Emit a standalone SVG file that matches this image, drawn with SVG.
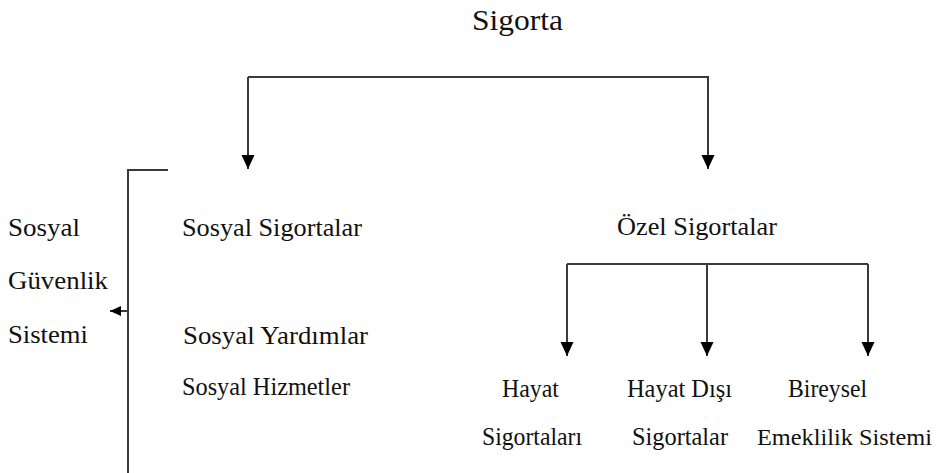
<svg xmlns="http://www.w3.org/2000/svg" width="942" height="473" viewBox="0 0 942 473">
<style>
text{font-family:"Times New Roman","Liberation Serif","DejaVu Serif",serif;font-size:26px;fill:#111}
.title{font-size:30px}
.sm{font-size:24px}
.ln{fill:none;stroke:#3a3a3a;stroke-width:2}
.a{marker-end:url(#ah)}
.s{marker-end:url(#sh)}
</style>
<defs>
<marker id="ah" markerUnits="userSpaceOnUse" markerWidth="14" markerHeight="14" refX="14" refY="6.5" orient="auto" viewBox="0 0 14 13"><path d="M0,0 L14,6.5 L0,13 z" fill="#000"/></marker>
<marker id="sh" markerUnits="userSpaceOnUse" markerWidth="11" markerHeight="11" refX="11" refY="5" orient="auto" viewBox="0 0 11 10"><path d="M0,0 L11,5 L0,10 z" fill="#000"/></marker>
</defs>
<rect width="942" height="473" fill="#fff"/>
<g id="connectors">
<path class="ln a" d="M248,77 V169"/>
<path class="ln a" d="M248,77 H708 V169"/>
<path class="ln" d="M168,170 H128 V473"/>
<path class="ln s" d="M128,311 H110"/>
<path class="ln" d="M567,264 H868"/>
<path class="ln a" d="M567,264 V356"/>
<path class="ln a" d="M707,264 V356"/>
<path class="ln a" d="M868,264 V356"/>
</g>
<g id="sigorta"><text class="title" x="472" y="30" textLength="91" lengthAdjust="spacingAndGlyphs">Sigorta</text></g>
<g id="sosyal-guvenlik"><text x="8" y="236" textLength="72" lengthAdjust="spacingAndGlyphs">Sosyal</text><text x="8" y="289" textLength="100" lengthAdjust="spacingAndGlyphs">Güvenlik</text><text x="8" y="343" textLength="80" lengthAdjust="spacingAndGlyphs">Sistemi</text></g>
<g id="sosyal-sigortalar"><text x="182" y="236" textLength="180" lengthAdjust="spacingAndGlyphs">Sosyal Sigortalar</text></g>
<g id="sosyal-yardimlar"><text x="183" y="344" textLength="185" lengthAdjust="spacingAndGlyphs">Sosyal Yardımlar</text></g>
<g id="sosyal-hizmetler"><text x="182" y="395" textLength="168" lengthAdjust="spacingAndGlyphs">Sosyal Hizmetler</text></g>
<g id="ozel-sigortalar"><text x="617" y="235" textLength="160" lengthAdjust="spacingAndGlyphs">Özel Sigortalar</text></g>
<g id="hayat"><text x="502" y="397" textLength="57" lengthAdjust="spacingAndGlyphs">Hayat</text><text x="482" y="445" textLength="100" lengthAdjust="spacingAndGlyphs">Sigortaları</text></g>
<g id="hayat-disi"><text x="627" y="397" textLength="105" lengthAdjust="spacingAndGlyphs">Hayat Dışı</text><text x="632" y="445" textLength="96" lengthAdjust="spacingAndGlyphs">Sigortalar</text></g>
<g id="bireysel"><text x="788" y="397" textLength="79" lengthAdjust="spacingAndGlyphs">Bireysel</text><text class="sm" x="757" y="445" textLength="175" lengthAdjust="spacingAndGlyphs">Emeklilik Sistemi</text></g>
</svg>
